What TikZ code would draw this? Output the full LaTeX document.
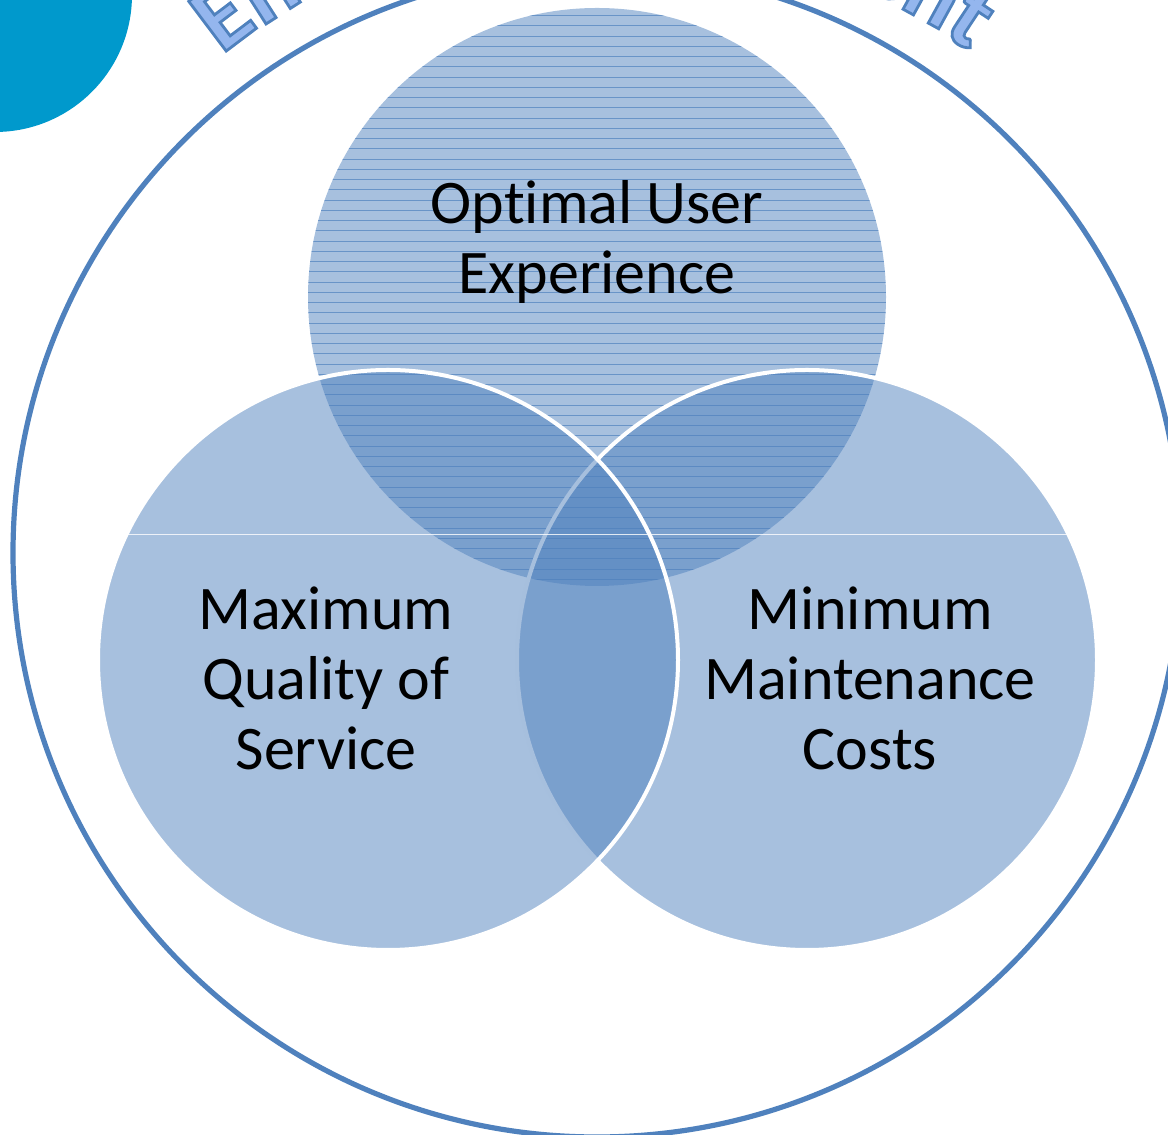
\documentclass[tikz,border=0pt]{standalone}
\usepackage{fontspec}
\setmainfont{Carlito}[Ligatures=NoCommon]
\definecolor{vennblue}{HTML}{4F81BD}
\definecolor{cornerblue}{HTML}{0099CC}
\definecolor{wordfill}{HTML}{94B6EE}
\newcommand\rimletter[1]{\special{pdf:literal direct 0.310 0.506 0.741 RG 1.4 w 2 Tr}#1\special{pdf:literal direct 0 Tr}}
\begin{document}
\begin{tikzpicture}[x=0.5pt,y=0.5pt,
  venn/.style={fill=vennblue,fill opacity=0.5},
  vennrim/.style={venn,draw=white,line width=2pt},
  venntext/.style={font=\fontsize{31}{35}\selectfont,align=center,inner sep=0pt,text=black},
  wordart/.style={font=\fontsize{48}{48}\selectfont\bfseries,inner sep=0pt,anchor=base west,text=wordfill}]
\useasboundingbox (0,0) rectangle (1168,1135);
\fill[cornerblue] (-5,1140) circle (137);
\coordinate (O) at (597,582);
\coordinate (top) at (597,838);
\coordinate (left) at (388,475);
\coordinate (right) at (807,475);
\draw[vennblue,line width=2.6pt] (O) circle (584);
\fill[venn] (top) circle (289);
\begin{scope}
\clip (top) circle (289);
\foreach \k in {0,...,57}
  \draw[vennblue,line width=0.5pt,opacity=0.7] (300,1129.7-10.25*\k) -- (890,1129.7-10.25*\k);
\end{scope}
\filldraw[vennrim] (right) circle (290);
\filldraw[vennrim] (left) circle (290);
\begin{scope}
\clip (left) circle (290) (right) circle (290);
\draw[white,line width=0.4pt,opacity=0.8] (90,601) -- (1100,601);
\end{scope}
\node[venntext] (ux) at (597,893.5) {Optimal User\\Experience};
\node[venntext] (qos) at (326,456.5) {Maximum\\Quality of\\Service};
\node[venntext] (cost) at (870,456.5) {Minimum\\Maintenance\\Costs};
\begin{scope}[shift={(O)}]
\node[wordart,rotate=37] (wE) at (127:624) {\rimletter{E}};
\node[wordart,rotate=32.6] (wn) at (122.6:624) {\rimletter{n}};
\node[wordart,rotate=-24.4] (we) at (65.6:624) {\rimletter{e}};
\node[wordart,rotate=-28.8] (wn2) at (61.2:624) {\rimletter{n}};
\node[wordart,rotate=-33.5] (wt) at (56.5:624) {\rimletter{t}};
\end{scope}
\end{tikzpicture}
\end{document}
